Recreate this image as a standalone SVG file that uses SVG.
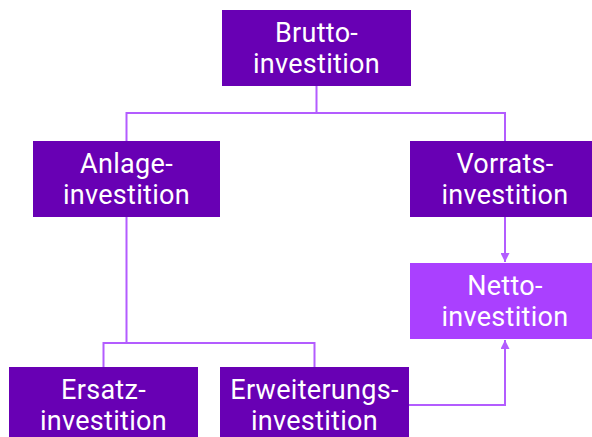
<svg xmlns="http://www.w3.org/2000/svg" width="592" height="437" viewBox="0 0 592 437">
<style>
.box{fill:#6800b4}
.net{fill:#aa40ff}
.lbl{font-family:Roboto,"Liberation Sans",sans-serif;font-size:27px;letter-spacing:0.3px;fill:#ffffff;text-anchor:middle}
.con{fill:none;stroke:#b35cff;stroke-width:2}
</style>
<defs>
<marker id="ah" viewBox="0 0 10 10" refX="10" refY="5" markerWidth="4.5" markerHeight="4.5" orient="auto" markerUnits="strokeWidth">
<path d="M0,0 L10,5 L0,10 z" fill="#b35cff"/>
</marker>
</defs>
<rect width="592" height="437" fill="#ffffff"/>
<g id="connectors">
<path class="con" d="M316.5,86 V113 M126.5,141 V113 H505 V141"/>
<path class="con" d="M126.5,217 V343 M103.5,367 V343 H314.5 V367"/>
<path class="con" d="M505,217 V262" marker-end="url(#ah)"/>
<path class="con" d="M409,405 H505 V340" marker-end="url(#ah)"/>
</g>
<g id="brutto">
<rect class="box" x="222" y="10" width="189" height="76"/>
<text class="lbl" x="316.5" y="42">Brutto-</text>
<text class="lbl" x="316.5" y="73">investition</text>
</g>
<g id="anlage">
<rect class="box" x="33" y="141" width="187" height="76"/>
<text class="lbl" x="126.5" y="173">Anlage-</text>
<text class="lbl" x="126.5" y="204">investition</text>
</g>
<g id="vorrats">
<rect class="box" x="410" y="141" width="190" height="76"/>
<text class="lbl" x="505" y="173">Vorrats-</text>
<text class="lbl" x="505" y="204">investition</text>
</g>
<g id="netto">
<rect class="net" x="410" y="263" width="190" height="76"/>
<text class="lbl" x="505" y="295">Netto-</text>
<text class="lbl" x="505" y="326">investition</text>
</g>
<g id="ersatz">
<rect class="box" x="9" y="367" width="189" height="76"/>
<text class="lbl" x="103.5" y="399">Ersatz-</text>
<text class="lbl" x="103.5" y="430">investition</text>
</g>
<g id="erweiterung">
<rect class="box" x="220" y="367" width="189" height="76"/>
<text class="lbl" x="314.5" y="399">Erweiterungs-</text>
<text class="lbl" x="314.5" y="430">investition</text>
</g>
</svg>
